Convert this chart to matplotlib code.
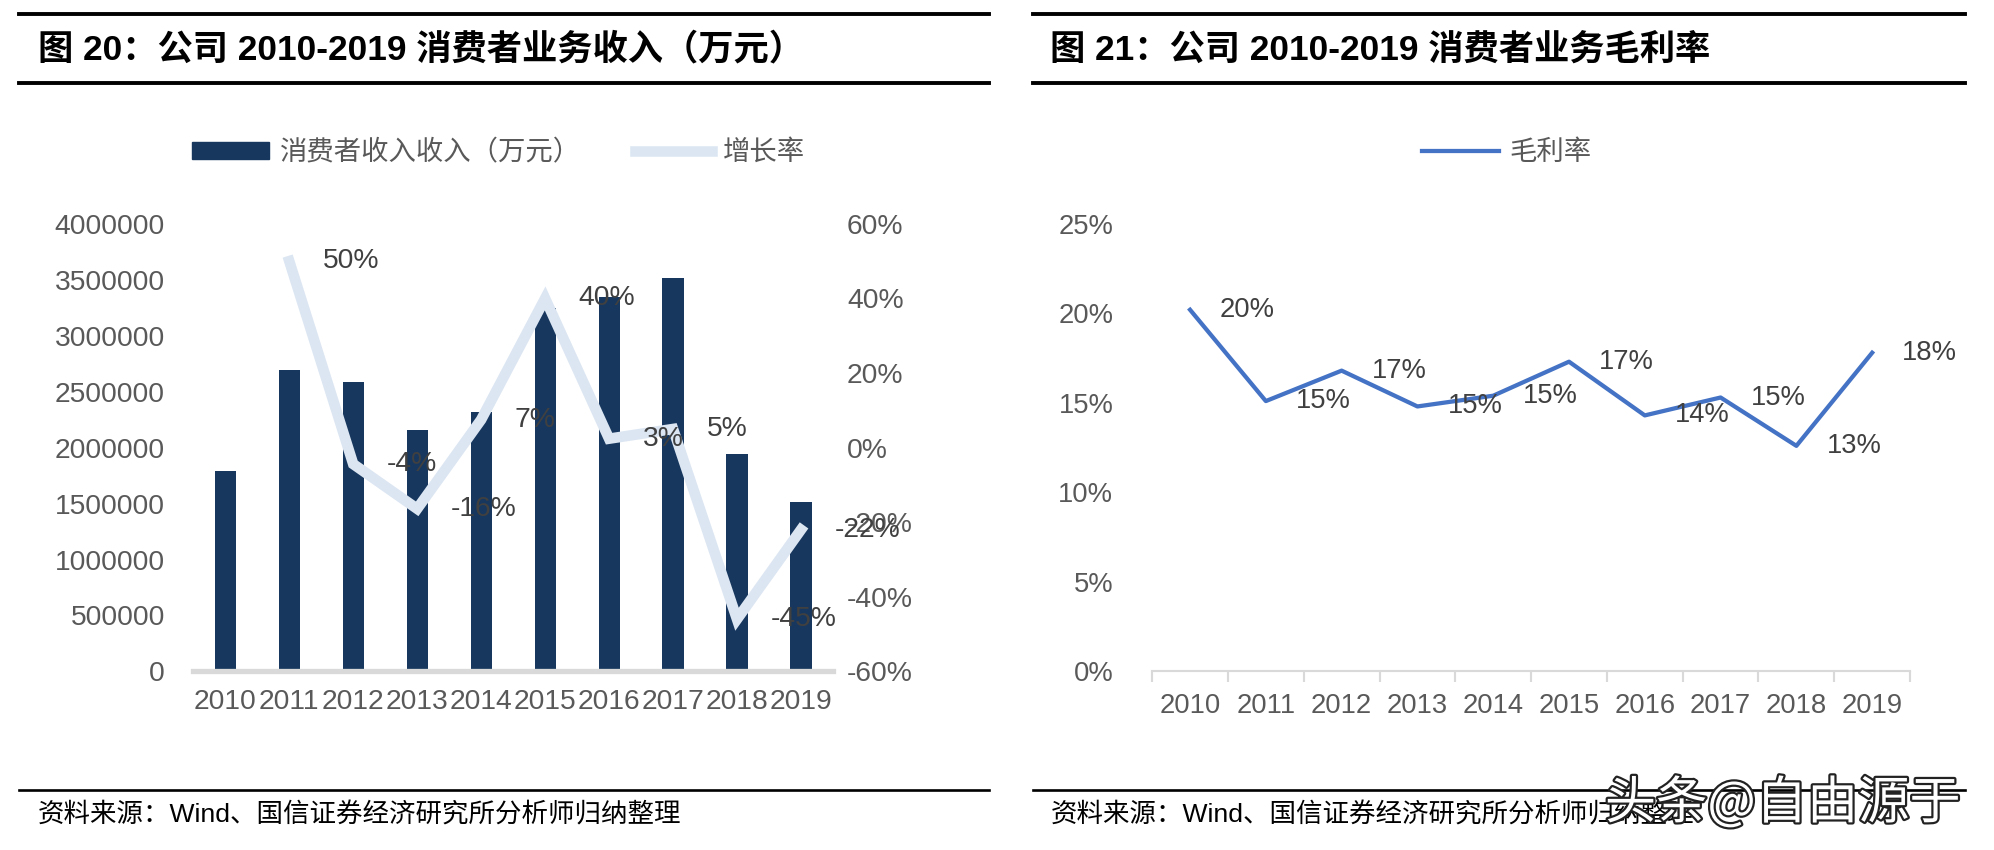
import matplotlib.pyplot as plt
import matplotlib.patheffects as pe
from matplotlib.lines import Line2D
from matplotlib.patches import Patch
from matplotlib.ticker import PercentFormatter, FuncFormatter

plt.rcParams['font.family'] = ['Liberation Sans', 'Noto Sans CJK SC', 'DejaVu Sans']
plt.rcParams['axes.unicode_minus'] = False

years = ['2010', '2011', '2012', '2013', '2014', '2015', '2016', '2017', '2018', '2019']
revenue = [1790000, 2690000, 2590000, 2160000, 2320000, 3250000, 3350000, 3520000, 1940000, 1510000]
growth = [None, 0.50, -0.044, -0.164, 0.075, 0.40, 0.024, 0.05, -0.46, -0.22]
growth_labels = ['', '50%', '-4%', '-16%', '7%', '40%', '3%', '5%', '-45%', '-22%']
margin = [0.202, 0.151, 0.168, 0.148, 0.154, 0.173, 0.143, 0.153, 0.126, 0.178]
margin_labels = ['20%', '15%', '17%', '15%', '15%', '17%', '14%', '15%', '13%', '18%']

title_left = '图 20：公司 2010-2019 消费者业务收入（万元）'
title_right = '图 21：公司 2010-2019 消费者业务毛利率'
source = '资料来源：Wind、国信证券经济研究所分析师归纳整理'

navy = '#17375E'
pale = '#DCE6F2'
blue = '#4472C4'
grey = '#595959'
axis_grey = '#D9D9D9'

# layout measured on a 1568-wide view of the page, scaled up to 1994
W, H = 1568, 668.4
S = 1994 / 1568
fig = plt.figure(figsize=(19.94, 8.5), dpi=100)

def fx(px):
    return px / W

def fy(py):
    return 1 - py / H

# title bars and footer rules
for x0, x1 in [(15, 778), (812, 1545)]:
    for y in (11, 65):
        fig.add_artist(Line2D([fx(x0), fx(x1)], [fy(y), fy(y)], color='black', lw=2.2 * S))
    fig.add_artist(Line2D([fx(x0), fx(x1)], [fy(621), fy(621)], color='black', lw=1.5 * S))

title_font = ['Liberation Sans', 'Noto Sans CJK SC']
fig.text(fx(30), fy(39), title_left, fontsize=20 * S, fontweight='bold', family=title_font, va='center')
fig.text(fx(826), fy(39), title_right, fontsize=20 * S, fontweight='bold', family=title_font, va='center')
fig.text(fx(30), fy(641), source, fontsize=15 * S, color='black', va='center')
fig.text(fx(826), fy(641), source, fontsize=15 * S, color='black', va='center')

# left chart: revenue bars + growth line
ax = fig.add_axes([fx(152), fy(528), fx(655 - 152), (528 - 176) / H])
x = list(range(len(years)))
ax.bar(x, revenue, width=0.33, color=navy, zorder=2)
ax.set_xlim(-0.5, 9.5)
ax.set_ylim(0, 4000000)
ax.set_yticks(range(0, 4000001, 500000))
ax.yaxis.set_major_formatter(FuncFormatter(lambda v, p: f'{int(v)}'))
ax.set_xticks(x)
ax.set_xticklabels(years)
for s in ['top', 'right', 'left']:
    ax.spines[s].set_visible(False)
ax.spines['bottom'].set_color(axis_grey)
ax.spines['bottom'].set_linewidth(3 * S)
ax.tick_params(axis='both', length=0, labelsize=16 * S, colors=grey, pad=10 * S)
ax.tick_params(axis='y', pad=16 * S)

ax2 = ax.twinx()
gx = x[1:]
gy = growth[1:]
ax2.plot(gx, gy, color=pale, lw=6 * S, solid_joinstyle='miter', zorder=3)
ax2.set_ylim(-0.6, 0.6)
ax2.set_yticks([-0.6, -0.4, -0.2, 0, 0.2, 0.4, 0.6])
ax2.yaxis.set_major_formatter(PercentFormatter(1.0, decimals=0))
for s in ax2.spines.values():
    s.set_visible(False)
ax2.tick_params(axis='y', length=0, labelsize=16 * S, colors=grey, pad=8 * S)
for xi, yi, lab in zip(gx, gy, growth_labels[1:]):
    ax2.annotate(lab, (xi, yi), xytext=(19 * S, 0), textcoords='offset points',
                 ha='left', va='center', fontsize=16 * S, color='#404040', zorder=4)

leg_handles = [Patch(color=navy), Line2D([0], [0], color=pale, lw=6 * S)]
fig.legend(leg_handles, ['消费者收入收入（万元）', '增长率'], loc='center',
           bbox_to_anchor=(fx(392), fy(120)), ncol=2, frameon=False,
           handlelength=2.8, handleheight=0.6, columnspacing=2.0, handletextpad=0.4,
           prop={'family': ['Noto Sans CJK SC'], 'size': 15.5 * S}, labelcolor=grey)

# right chart: gross margin line
ax3 = fig.add_axes([fx(906), fy(528), fx(1502 - 906), (528 - 176) / H])
ax3.plot(x, margin, color=blue, lw=2.4 * S, zorder=3)
ax3.set_xlim(-0.5, 9.5)
ax3.set_ylim(0, 0.25)
ax3.set_yticks([0, 0.05, 0.10, 0.15, 0.20, 0.25])
ax3.yaxis.set_major_formatter(PercentFormatter(1.0, decimals=0))
ax3.set_xticks(x)
ax3.set_xticklabels(years)
ax3.set_xticks([i - 0.5 for i in range(11)], minor=True)
for s in ['top', 'right', 'left']:
    ax3.spines[s].set_visible(False)
ax3.spines['bottom'].set_color(axis_grey)
ax3.spines['bottom'].set_linewidth(1.2 * S)
ax3.tick_params(axis='x', which='major', length=0, labelsize=15.5 * S, colors=grey, pad=12 * S)
ax3.tick_params(axis='x', which='minor', length=6 * S, width=1.2 * S, color=axis_grey, direction='out')
ax3.tick_params(axis='y', length=0, labelsize=15.5 * S, colors=grey, pad=22 * S)
for xi, yi, lab in zip(x, margin, margin_labels):
    ax3.annotate(lab, (xi, yi), xytext=(17 * S, 0), textcoords='offset points',
                 ha='left', va='center', fontsize=15.5 * S, color='#404040')

fig.legend([Line2D([0], [0], color=blue, lw=2.4 * S)], ['毛利率'], loc='center',
           bbox_to_anchor=(fx(1185), fy(120)), frameon=False,
           handlelength=2.8, handletextpad=0.4,
           prop={'family': ['Noto Sans CJK SC'], 'size': 15.5 * S}, labelcolor=grey)

# watermark
fig.text(fx(1262), fy(632), '头条@自由源于', fontsize=29 * S, color='white', va='center',
         family=['Noto Sans CJK SC'],
         path_effects=[pe.withStroke(linewidth=2.5 * S, foreground='#222222')])

fig.savefig('out.png', dpi=100)
